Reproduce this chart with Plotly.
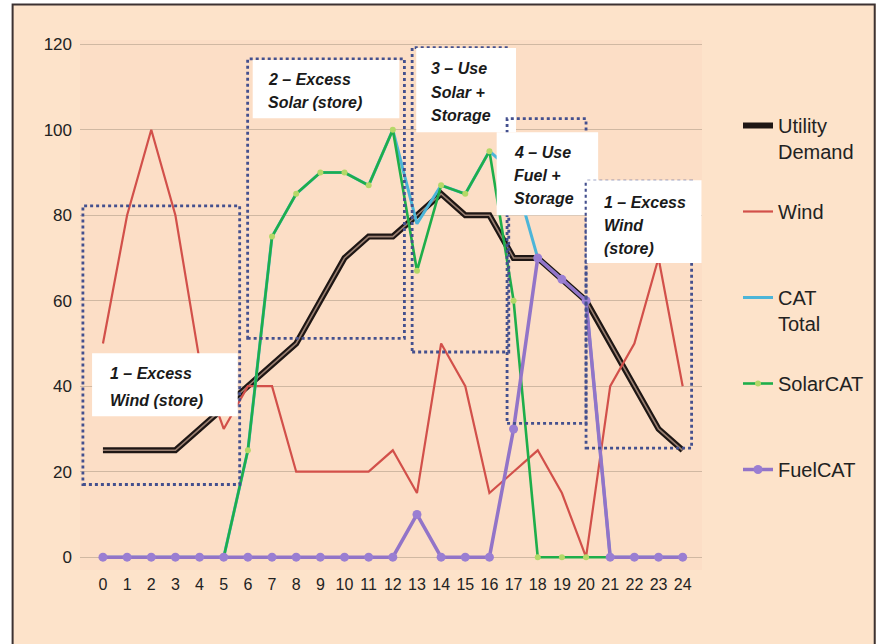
import plotly.graph_objects as go

# ---- data ----
hours = list(range(25))
hour_labels = [str(h) for h in hours]
utility_demand = [25, 25, 25, 25, 30, 35, 40, 45, 50, 60, 70, 75, 75, 80, 85, 80, 80, 70, 70, 65, 60, 50, 40, 30, 25]
wind = [50, 80, 100, 80, 46, 30, 40, 40, 20, 20, 20, 20, 25, 15, 50, 40, 15, 20, 25, 15, 0, 40, 50, 70, 40]
cat_total = [0, 0, 0, 0, 0, 0, 25, 75, 85, 90, 90, 87, 100, 78, 87, 85, 95, 90, 70, 65, 60, 0, 0, 0, 0]
solar_cat = [0, 0, 0, 0, 0, 0, 25, 75, 85, 90, 90, 87, 100, 67, 87, 85, 95, 60, 0, 0, 0, 0, 0, 0, 0]
fuel_cat = [0, 0, 0, 0, 0, 0, 0, 0, 0, 0, 0, 0, 0, 10, 0, 0, 0, 30, 70, 65, 60, 0, 0, 0, 0]
y_ticks = [0, 20, 40, 60, 80, 100, 120]

# ---- phase annotation boxes (layout only) ----
phase_boxes = [
    dict(dot=(-0.83, 5.66, 17.0, 82.2), white=(-0.45, 5.58, 33.0, 47.7),
         tx=0.2, lines=[("1 – Excess", 43.0), ("Wind (store)", 36.7)]),
    dict(dot=(5.99, 12.48, 51.2, 116.6), white=(6.2, 12.27, 102.7, 116.3),
         tx=6.77, lines=[("2 – Excess", 111.8), ("Solar (store)", 106.4)]),
    dict(dot=(12.80, 16.80, 48.0, 119.2), white=(12.97, 17.1, 99.4, 119.1),
         tx=13.5, lines=[("3 – Use", 114.4), ("Solar +", 108.8), ("Storage", 103.4)]),
    dict(dot=(16.73, 20.0, 31.3, 102.6), white=(16.3, 20.5, 80.0, 99.4),
         tx=16.94, lines=[("4 – Use", 94.7), ("Fuel +", 89.4), ("Storage", 84.0)]),
    dict(dot=(20.0, 24.37, 25.5, 88.0), white=(20.03, 24.78, 68.8, 88.2),
         tx=20.65, lines=[("1 – Excess", 83.0), ("Wind", 77.7), ("(store)", 72.3)]),
]

FONT = "Liberation Sans, Arial, sans-serif"
NB = "\u00a0"

fig = go.Figure()

fig.add_trace(go.Scatter(x=hours, y=utility_demand, mode="lines", name="Utility<br>Demand",
                         legendgroup="a", line=dict(color="#1e1614", width=6)))
fig.add_trace(go.Scatter(x=hours, y=utility_demand, mode="lines", showlegend=False,
                         legendgroup="a", hoverinfo="skip", line=dict(color="#9a8072", width=1.6)))
fig.add_trace(go.Scatter(x=hours, y=wind, mode="lines", name="Wind<br>" + NB,
                         legendgroup="b", line=dict(color="#d2504a", width=2.2)))
fig.add_trace(go.Scatter(x=hours, y=cat_total, mode="lines", name="CAT<br>Total",
                         legendgroup="c", line=dict(color="#4cb5d8", width=3)))
fig.add_trace(go.Scatter(x=hours, y=solar_cat, mode="lines+markers", name="SolarCAT<br>" + NB,
                         legendgroup="d", line=dict(color="#1eae4a", width=2.6),
                         marker=dict(color="#b4d868", size=6)))
fig.add_trace(go.Scatter(x=hours, y=fuel_cat, mode="lines+markers", name="FuelCAT<br>" + NB,
                         legendgroup="e", line=dict(color="#9274c8", width=3.5),
                         marker=dict(color="#9a7ed2", size=9)))

shapes = []
annotations = []
for b in phase_boxes:
    x0, x1, y0, y1 = b["dot"]
    shapes.append(dict(type="rect", xref="x", yref="y", x0=x0, x1=x1, y0=y0, y1=y1,
                       line=dict(color="#44508e", width=2.8, dash="dot"), fillcolor="rgba(0,0,0,0)"))
    wx0, wx1, wy0, wy1 = b["white"]
    shapes.append(dict(type="rect", xref="x", yref="y", x0=wx0, x1=wx1, y0=wy0, y1=wy1,
                       line=dict(width=0), fillcolor="#ffffff"))
    for txt, yy in b["lines"]:
        annotations.append(dict(x=b["tx"], y=yy, xref="x", yref="y", text="<b><i>" + txt + "</i></b>",
                                showarrow=False, xanchor="left", yanchor="middle",
                                font=dict(family=FONT, size=16, color="#1a1a1a")))

# outer frame: white strips outside and dark border
shapes += [
    dict(type="rect", xref="paper", yref="paper", x0=-0.2, x1=(12 - 80) / 623, y0=-0.2, y1=1.2,
         fillcolor="#ffffff", line=dict(width=0), layer="below"),
    dict(type="rect", xref="paper", yref="paper", x0=-0.2, x1=1.4, y0=1 - (4 - 40) / 530, y1=1.2,
         fillcolor="#ffffff", line=dict(width=0), layer="below"),
    dict(type="rect", xref="paper", yref="paper", x0=(877 - 80) / 623, x1=1.4, y0=-0.2, y1=1.2,
         fillcolor="#ffffff", line=dict(width=0), layer="below"),
    dict(type="rect", xref="paper", yref="paper", x0=(12.5 - 80) / 623, x1=(876 - 80) / 623,
         y0=1 - (660 - 40) / 530, y1=1 - (4.5 - 40) / 530,
         fillcolor="rgba(0,0,0,0)", line=dict(color="#3c3232", width=2), layer="below"),
]

fig.update_layout(
    width=880, height=644,
    margin=dict(l=80, r=177, t=40, b=74),
    paper_bgcolor="#fde3ca",
    plot_bgcolor="#fcdec6",
    font=dict(family=FONT, color="#262626"),
    showlegend=True,
    legend=dict(x=(738 - 80) / 623, xanchor="left", y=1 - (106 - 40) / 530, yanchor="top",
                font=dict(family=FONT, size=20, color="#222222"), valign="top",
                tracegroupgap=31, bgcolor="rgba(0,0,0,0)", itemclick=False),
    shapes=shapes,
    annotations=annotations,
)
fig.update_xaxes(range=[-0.95, 24.8], tickmode="array", tickvals=hours, ticktext=hour_labels,
                 showgrid=False, zeroline=False, showline=False, ticks="",
                 tickfont=dict(family=FONT, size=16, color="#222222"), ticklabelstandoff=3)
fig.update_yaxes(range=[-3, 121], tickmode="array", tickvals=y_ticks,
                 showgrid=True, gridcolor="#d0b8a2", gridwidth=1, zeroline=False, showline=False,
                 ticks="", tickfont=dict(family=FONT, size=17, color="#222222"), ticklabelstandoff=7)

fig.write_html("out.html", config={"displayModeBar": False},
               post_script="document.body.style.margin='0';document.body.style.overflow='hidden';")
